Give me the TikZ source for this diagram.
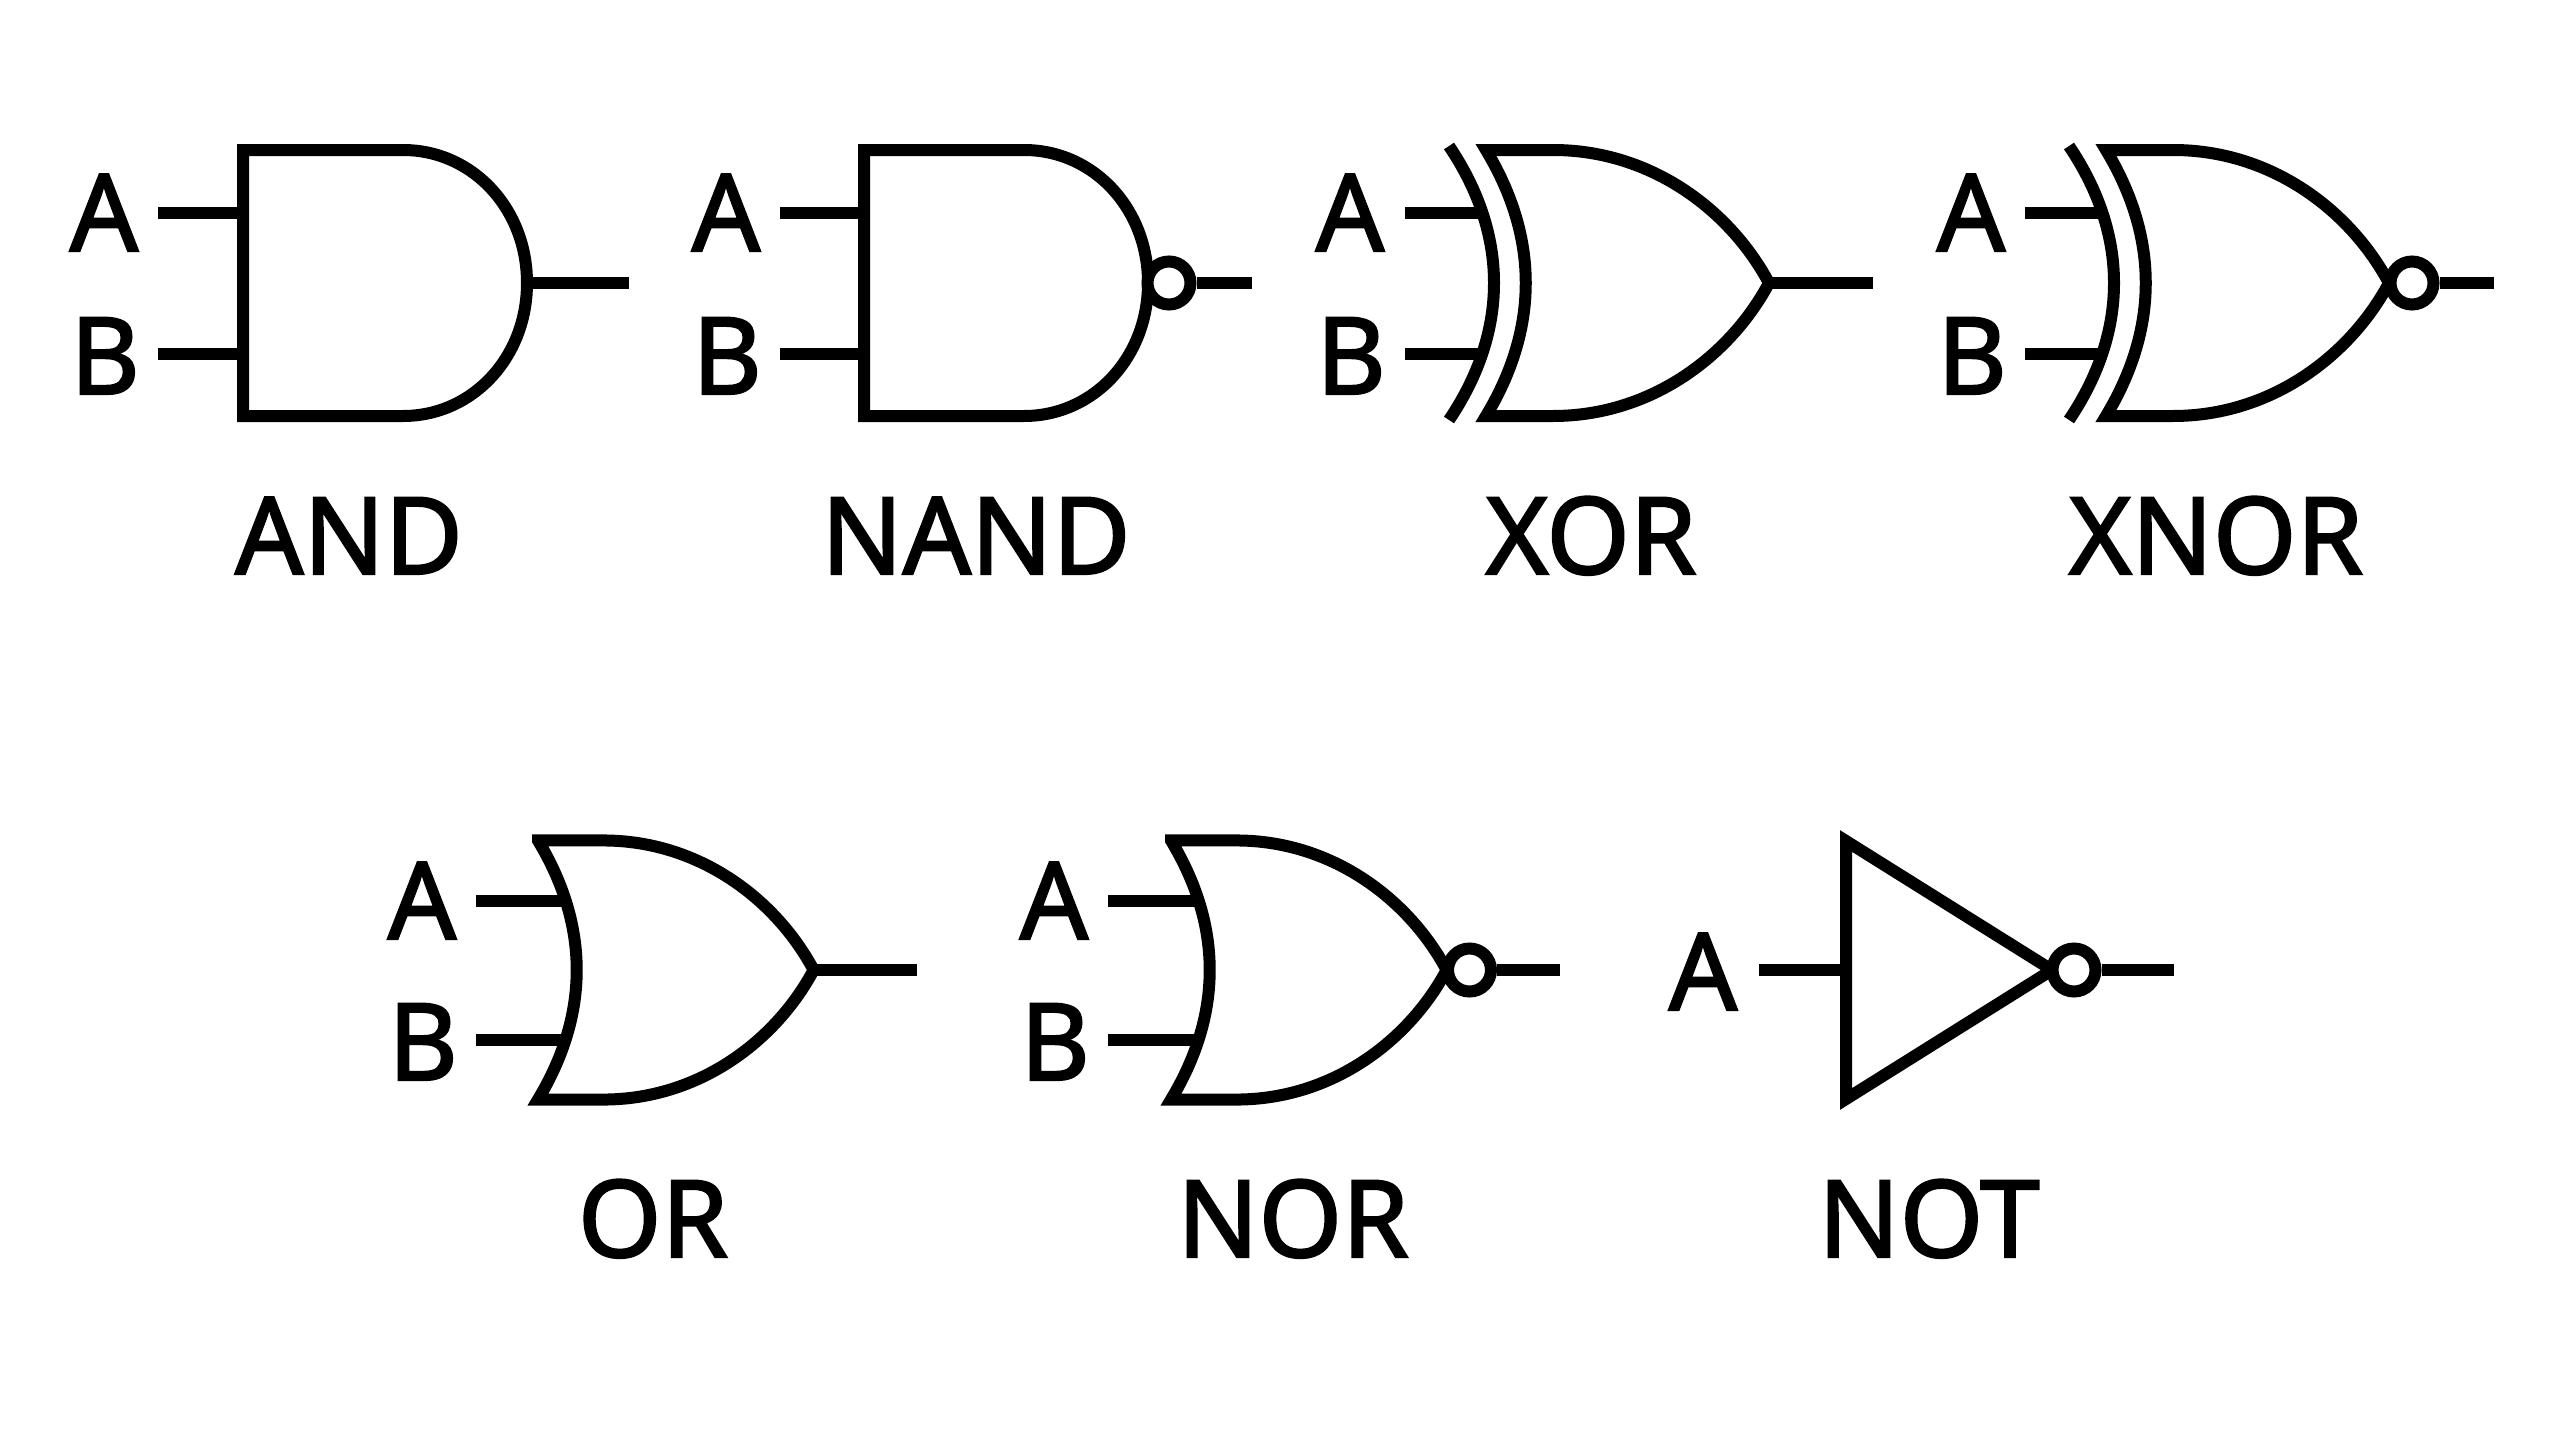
\documentclass[tikz,border=0pt]{standalone}
\usepackage{fontspec}
\setmainfont{Noto Sans}[FakeBold=2]
\usetikzlibrary{calc}

\begin{document}
\begin{tikzpicture}[x=1pt, y=-1pt]
\tikzstyle{gate}=[draw, line width=12pt]
\tikzstyle{wire}=[line width=12pt]
\tikzstyle{gatebox}=[inner sep=0pt, outer sep=0pt, minimum height=260pt, anchor=west]
\tikzstyle{bubble}=[circle, draw, fill=white, line width=12pt, inner sep=0pt, outer sep=6pt, minimum size=43pt]
\tikzstyle{txt}=[font=\fontsize{107}{120}\selectfont\bfseries, inner sep=0pt, anchor=base]

\newcommand{\andbody}[1]{\draw[gate, shift={(#1)}] (0,-133) -- (160,-133) .. controls (229,-133) and (284,-75) .. (284,0) .. controls (284,75) and (229,133) .. (160,133) -- (0,133) -- cycle;}
\newcommand{\orbody}[2]{\draw[gate, shift={(#1)}, scale=#2] (0,-133) -- (67,-133) .. controls (165,-133) and (244,-73) .. (283,0) .. controls (244,73) and (165,133) .. (67,133) -- (0,133) .. controls (53,45) and (53,-45) .. cycle;}
\newcommand{\shield}[1]{\draw[gate, shift={(#1)}] (0,-137) .. controls (60,-48) and (60,48) .. (0,137);}

\useasboundingbox (0,0) rectangle (2560,1429);

%%%%%%%%%%%%%%%%%%%%%%%%%%%%%%
%%%%% TOP ROW

%%%%% AND
\coordinate (and_c) at (243,283);
\coordinate (and_a) at (158,213);
\coordinate (and_b) at (158,354);
\coordinate (and_y) at (629,283);
\node[gatebox, minimum width=284pt] (and_g) at (and_c) {};
\andbody{and_c}
\node[txt] (and_la) at (104,251) {A};
\node[txt] (and_lb) at (105,394) {B};
\node[txt] (and_t) at (349,574) {AND};
\draw[wire] (and_a) -- (and_g.west |- and_a);
\draw[wire] (and_b) -- (and_g.west |- and_b);
\draw[wire] (and_g.east) -- (and_y);

%%%%% NAND
\coordinate (nand_c) at (864,283);
\coordinate (nand_a) at (780,213);
\coordinate (nand_b) at (780,354);
\coordinate (nand_y) at (1252,283);
\node[gatebox, minimum width=283pt] (nand_g) at (nand_c) {};
\andbody{nand_c}
\node[bubble] (nand_n) at (1169,283) {};
\node[txt] (nand_la) at (726,251) {A};
\node[txt] (nand_lb) at (727,394) {B};
\node[txt] (nand_t) at (976,574) {NAND};
\draw[wire] (nand_a) -- (nand_g.west |- nand_a);
\draw[wire] (nand_b) -- (nand_g.west |- nand_b);
\draw[wire] (nand_n) -- (nand_y);

%%%%% XOR
\coordinate (xor_c) at (1486,283);
\coordinate (xor_s) at (1449,283);
\coordinate (xor_a) at (1405,213);
\coordinate (xor_b) at (1405,354);
\coordinate (xor_y) at (1873,283);
\node[gatebox, minimum width=287pt] (xor_g) at (1482,283) {};
\orbody{xor_c}{1}
\shield{xor_s}
\node[txt] (xor_la) at (1350,251) {A};
\node[txt] (xor_lb) at (1351,394) {B};
\node[txt] (xor_t) at (1591,574) {XOR};
\draw[wire] (xor_a) -- (xor_g.west |- xor_a);
\draw[wire] (xor_b) -- (xor_g.west |- xor_b);
\draw[wire] (xor_g.east) -- (xor_y);

%%%%% XNOR
\coordinate (xnor_c) at (2106,283);
\coordinate (xnor_s) at (2069,283);
\coordinate (xnor_a) at (2025,213);
\coordinate (xnor_b) at (2025,354);
\coordinate (xnor_y) at (2494,283);
\node[gatebox, minimum width=287pt] (xnor_g) at (2102,283) {};
\orbody{xnor_c}{1}
\shield{xnor_s}
\node[bubble] (xnor_n) at (2412,283) {};
\node[txt] (xnor_la) at (1971,251) {A};
\node[txt] (xnor_lb) at (1972,394) {B};
\node[txt] (xnor_t) at (2216,574) {XNOR};
\draw[wire] (xnor_a) -- (xnor_g.west |- xnor_a);
\draw[wire] (xnor_b) -- (xnor_g.west |- xnor_b);
\draw[wire] (xnor_n) -- (xnor_y);

%%%%%%%%%%%%%%%%%%%%%%%%%%%%%%
%%%%% BOTTOM ROW

%%%%% OR
\coordinate (or_c) at (538,970);
\coordinate (or_a) at (476,901);
\coordinate (or_b) at (476,1040);
\coordinate (or_y) at (917,970);
\node[gatebox, minimum width=251pt] (or_g) at (565,970) {};
\orbody{or_c}{0.974}
\node[txt] (or_la) at (422,939) {A};
\node[txt] (or_lb) at (423,1080) {B};
\node[txt] (or_t) at (653,1257) {OR};
\draw[wire] (or_a) -- (or_g.west |- or_a);
\draw[wire] (or_b) -- (or_g.west |- or_b);
\draw[wire] (or_g.east) -- (or_y);

%%%%% NOR
\coordinate (nor_c) at (1171,970);
\coordinate (nor_a) at (1108,901);
\coordinate (nor_b) at (1108,1040);
\coordinate (nor_y) at (1560,970);
\node[gatebox, minimum width=249pt] (nor_g) at (1198,970) {};
\orbody{nor_c}{0.974}
\node[bubble] (nor_n) at (1469.5,970) {};
\node[txt] (nor_la) at (1054,939) {A};
\node[txt] (nor_lb) at (1055,1080) {B};
\node[txt] (nor_t) at (1293,1257) {NOR};
\draw[wire] (nor_a) -- (nor_g.west |- nor_a);
\draw[wire] (nor_b) -- (nor_g.west |- nor_b);
\draw[wire] (nor_n) -- (nor_y);

%%%%% NOT
\coordinate (not_a) at (1759,970);
\coordinate (not_y) at (2174,970);
\node[gatebox, minimum width=206pt] (not_g) at (1846,970) {};
\draw[gate] (not_g.west) ++(0,-129) -- (not_g.east) -- ++(-206,129) -- cycle;
\node[bubble] (not_n) at (2074,970) {};
\node[txt] (not_la) at (1703,1010) {A};
\node[txt] (not_t) at (1929,1257) {NOT};
\draw[wire] (not_a) -- (not_g.west);
\draw[wire] (not_n) -- (not_y);

\end{tikzpicture}
\end{document}
